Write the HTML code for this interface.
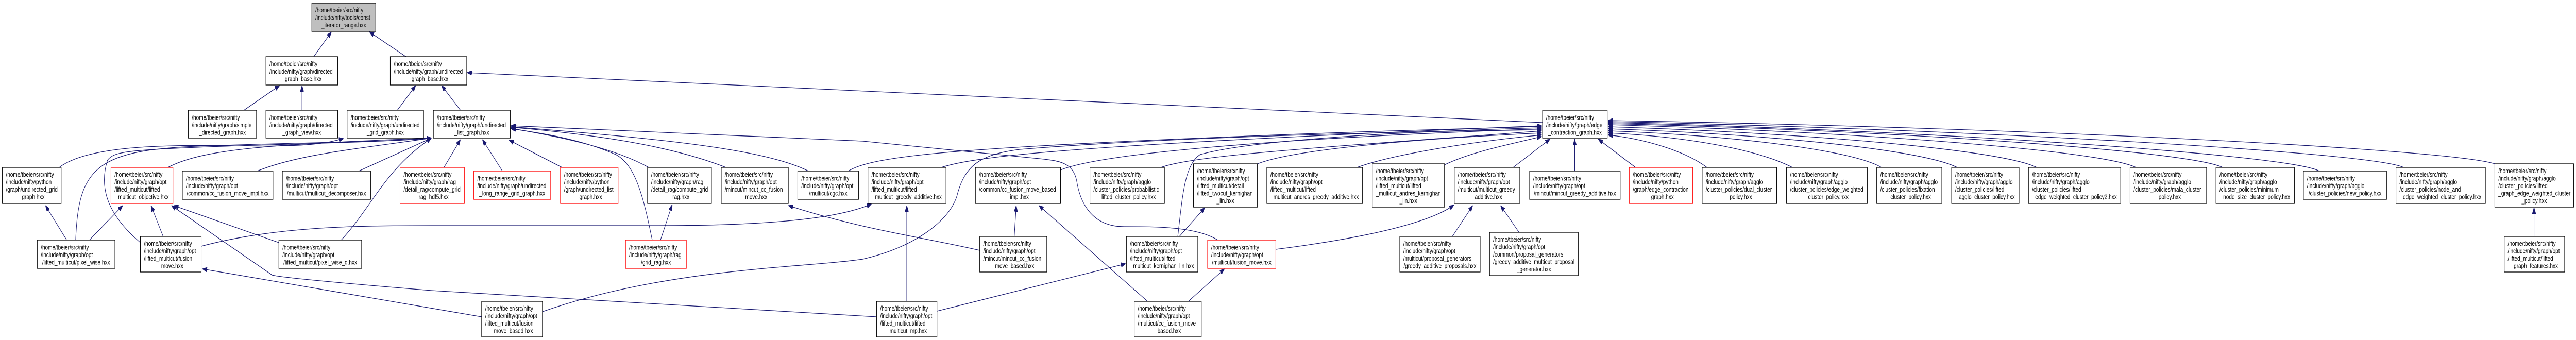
<!DOCTYPE html>
<html><head><meta charset="utf-8"><style>
html,body{margin:0;padding:0;background:#fff;width:100%;height:100%;overflow:hidden;}
svg{display:block;position:fixed;left:0;top:0;width:100vw;height:100vh;}
text{font-family:"Liberation Sans",Arial,sans-serif;font-size:13.2px;fill:#000;}
rect{fill:#fff;stroke:#000;stroke-width:1.3;}
rect.r{stroke:#f00;}
path.e{fill:none;stroke:#191970;stroke-width:1.3;marker-end:url(#a);}
</style></head><body>
<svg viewBox="0 0 6568 660" preserveAspectRatio="none" xmlns="http://www.w3.org/2000/svg">
<defs><marker id="a" viewBox="0 0 12 9" refX="12" refY="4.5" markerWidth="12" markerHeight="9" markerUnits="userSpaceOnUse" orient="auto"><path d="M0,0 L12,4.5 L0,9 z" fill="#191970" stroke="#191970"/></marker></defs>
<path class="e" d="M800,110 L845,62"/>
<path class="e" d="M1035,110 L942,62"/>
<path class="e" d="M622,214 L713,166"/>
<path class="e" d="M770,214 L770,166"/>
<path class="e" d="M1013,214 L1060,166"/>
<path class="e" d="M1174,214 L1126,166"/>
<path class="e" d="M3933,238 L1191,141"/>
<path class="e" d="M151,325 C 220,285 400,280 600,283 S 840,276 876,269"/>
<path class="e" d="M193,466 C 200,330 240,292 500,284 S 1000,276 1100,268"/>
<path class="e" d="M358,471 C 281,421 250,370 274,311 C 290,295 320,292 500,286 S 1000,276 1100,268"/>
<path class="e" d="M428,325 C 520,288 700,280 1100,268"/>
<path class="e" d="M656,332 C 760,300 900,290 1100,268"/>
<path class="e" d="M915,332 L1100,268"/>
<path class="e" d="M870,466 C 950,400 980,330 1100,268"/>
<path class="e" d="M170,466 L116,399"/>
<path class="e" d="M228,466 L313,399"/>
<path class="e" d="M416,459 L385,399"/>
<path class="e" d="M711,471 L443,399"/>
<path class="e" d="M2235,615 L1100,564 Q 720,540 694,534 L437,399"/>
<path class="e" d="M1228,615 L516,522"/>
<path class="e" d="M513,478 C 700,440 900,438 1100,438 L1680,438 C 2000,438 2150,420 2222,396"/>
<path class="e" d="M2498,486 C 2350,460 2200,446 2010,399"/>
<path class="e" d="M1383,605 C 1700,520 2050,520 2200,503 C 2330,480 2420,430 2440,380 C 2460,320 2500,300 2600,290 C 3000,265 3600,255 3931,252"/>
<path class="e" d="M2312,585 L2312,399"/>
<path class="e" d="M2389,604 L2870,512"/>
<path class="e" d="M2926,585 L2649,399"/>
<path class="e" d="M2586,459 L2591,399"/>
<path class="e" d="M3030,585 L3122,522"/>
<path class="e" d="M3007,459 L3072,403"/>
<path class="e" d="M3003,459 C 3015,380 3020,320 3060,300 C 3200,270 3600,255 3931,248"/>
<path class="e" d="M1684,466 L1714,397"/>
<path class="e" d="M1663,466 C 1640,380 1620,320 1570,300 C 1480,270 1380,258 1303,250"/>
<path class="e" d="M3105,466 C 3050,440 2950,440 2866,440 C 2790,440 2755,400 2745,350 C 2735,315 2700,312 2650,308 L2200,274 L1303,244"/>
<path class="e" d="M2061,332 C 1950,290 1700,270 1303,246"/>
<path class="e" d="M1851,325 C 1700,280 1500,260 1303,247"/>
<path class="e" d="M1654,325 C 1560,285 1420,265 1303,249"/>
<path class="e" d="M1433,325 L1298,272"/>
<path class="e" d="M1281,332 L1230,271"/>
<path class="e" d="M1132,325 L1174,271"/>
<path class="e" d="M2163,332 C 2220,305 2400,290 3000,270 S 3800,250 3931,245"/>
<path class="e" d="M2400,325 C 2500,300 2800,280 3931,244"/>
<path class="e" d="M2704,330 C 2800,300 3200,270 3931,250"/>
<path class="e" d="M2960,325 C 3050,300 3400,285 3931,254"/>
<path class="e" d="M3206,318 C 3300,290 3600,270 3931,258"/>
<path class="e" d="M3460,325 C 3550,300 3750,275 3931,262"/>
<path class="e" d="M3683,320 C 3750,295 3850,280 3931,265"/>
<path class="e" d="M3858,325 L3952,270"/>
<path class="e" d="M4015,332 L4015,270"/>
<path class="e" d="M4170,325 L4075,270"/>
<path class="e" d="M3253,484 C 3500,460 3650,430 3707,398"/>
<path class="e" d="M3703,459 L3755,399"/>
<path class="e" d="M3873,451 L3826,399"/>
<path class="e" d="M4352,325 C 4300,295 4200,270 4100,262"/>
<path class="e" d="M4570,325 C 4480,290 4300,265 4100,258"/>
<path class="e" d="M4797,325 C 4720,290 4400,262 4100,254"/>
<path class="e" d="M4990,325 C 4900,290 4500,260 4100,250"/>
<path class="e" d="M5193,325 C 5100,290 4600,258 4100,246"/>
<path class="e" d="M5446,325 C 5350,290 4700,255 4100,242"/>
<path class="e" d="M5667,325 C 5580,292 4800,252 4100,240"/>
<path class="e" d="M5913,332 C 5840,300 4900,252 4100,238"/>
<path class="e" d="M6128,325 C 6050,295 5000,250 4100,236"/>
<path class="e" d="M6361,318 C 6250,290 5200,248 4100,234"/>
<path class="e" d="M6461,459 L6461,403"/>
<g>
<rect x="795" y="6" width="163" height="55" style="fill:#bfbfbf"/>
<text><tspan x="804" y="24">/home/tbeier/src/nifty</tspan><tspan x="804" y="38.5">/include/nifty/tools/const</tspan><tspan x="876.5" y="53" text-anchor="middle">_iterator_range.hxx</tspan></text>
</g>
<g><rect x="678" y="110" width="183" height="55"/><text><tspan x="687" y="128.5">/home/tbeier/src/nifty</tspan><tspan x="687" y="143">/include/nifty/graph/directed</tspan><tspan x="769.5" y="157.5" text-anchor="middle">_graph_base.hxx</tspan></text></g>
<g><rect x="995" y="110" width="195" height="55"/><text><tspan x="1004" y="128.5">/home/tbeier/src/nifty</tspan><tspan x="1004" y="143">/include/nifty/graph/undirected</tspan><tspan x="1092.5" y="157.5" text-anchor="middle">_graph_base.hxx</tspan></text></g>
<g><rect x="480" y="214" width="174" height="54"/><text><tspan x="489" y="232.5">/home/tbeier/src/nifty</tspan><tspan x="489" y="247">/include/nifty/graph/simple</tspan><tspan x="567" y="261.5" text-anchor="middle">_directed_graph.hxx</tspan></text></g>
<g><rect x="678" y="214" width="183" height="54"/><text><tspan x="687" y="232.5">/home/tbeier/src/nifty</tspan><tspan x="687" y="247">/include/nifty/graph/directed</tspan><tspan x="769.5" y="261.5" text-anchor="middle">_graph_view.hxx</tspan></text></g>
<g><rect x="885" y="214" width="195" height="54"/><text><tspan x="894" y="232.5">/home/tbeier/src/nifty</tspan><tspan x="894" y="247">/include/nifty/graph/undirected</tspan><tspan x="982.5" y="261.5" text-anchor="middle">_grid_graph.hxx</tspan></text></g>
<g><rect x="1105" y="214" width="196" height="54"/><text><tspan x="1114" y="232.5">/home/tbeier/src/nifty</tspan><tspan x="1114" y="247">/include/nifty/graph/undirected</tspan><tspan x="1203" y="261.5" text-anchor="middle">_list_graph.hxx</tspan></text></g>
<g><rect x="3933" y="214" width="165" height="54"/><text><tspan x="3942" y="232.5">/home/tbeier/src/nifty</tspan><tspan x="3942" y="247">/include/nifty/graph/edge</tspan><tspan x="4015.5" y="261.5" text-anchor="middle">_contraction_graph.hxx</tspan></text></g>
<g><rect x="6" y="325" width="150" height="70"/><text><tspan x="15" y="343">/home/tbeier/src/nifty</tspan><tspan x="15" y="357.5">/include/nifty/python</tspan><tspan x="15" y="372">/graph/undirected_grid</tspan><tspan x="81" y="386.5" text-anchor="middle">_graph.hxx</tspan></text></g>
<g><rect class="r" x="283" y="325" width="158" height="70"/><text><tspan x="292" y="343">/home/tbeier/src/nifty</tspan><tspan x="292" y="357.5">/include/nifty/graph/opt</tspan><tspan x="292" y="372">/lifted_multicut/lifted</tspan><tspan x="362" y="386.5" text-anchor="middle">_multicut_objective.hxx</tspan></text></g>
<g><rect x="465" y="332" width="231" height="55"/><text><tspan x="474" y="350.5">/home/tbeier/src/nifty</tspan><tspan x="474" y="365">/include/nifty/graph/opt</tspan><tspan x="580.5" y="379.5" text-anchor="middle">/common/cc_fusion_move_impl.hxx</tspan></text></g>
<g><rect x="720" y="332" width="225" height="55"/><text><tspan x="729" y="350.5">/home/tbeier/src/nifty</tspan><tspan x="729" y="365">/include/nifty/graph/opt</tspan><tspan x="832.5" y="379.5" text-anchor="middle">/multicut/multicut_decomposer.hxx</tspan></text></g>
<g><rect class="r" x="1020" y="325" width="164" height="70"/><text><tspan x="1029" y="343">/home/tbeier/src/nifty</tspan><tspan x="1029" y="357.5">/include/nifty/graph/rag</tspan><tspan x="1029" y="372">/detail_rag/compute_grid</tspan><tspan x="1102" y="386.5" text-anchor="middle">_rag_hdf5.hxx</tspan></text></g>
<g><rect class="r" x="1208" y="332" width="196" height="55"/><text><tspan x="1217" y="350.5">/home/tbeier/src/nifty</tspan><tspan x="1217" y="365">/include/nifty/graph/undirected</tspan><tspan x="1306" y="379.5" text-anchor="middle">_long_range_grid_graph.hxx</tspan></text></g>
<g><rect class="r" x="1429" y="325" width="147" height="70"/><text><tspan x="1438" y="343">/home/tbeier/src/nifty</tspan><tspan x="1438" y="357.5">/include/nifty/python</tspan><tspan x="1438" y="372">/graph/undirected_list</tspan><tspan x="1502.5" y="386.5" text-anchor="middle">_graph.hxx</tspan></text></g>
<g><rect x="1651" y="325" width="163" height="70"/><text><tspan x="1660" y="343">/home/tbeier/src/nifty</tspan><tspan x="1660" y="357.5">/include/nifty/graph/rag</tspan><tspan x="1660" y="372">/detail_rag/compute_grid</tspan><tspan x="1732.5" y="386.5" text-anchor="middle">_rag.hxx</tspan></text></g>
<g><rect x="1839" y="325" width="171" height="70"/><text><tspan x="1848" y="343">/home/tbeier/src/nifty</tspan><tspan x="1848" y="357.5">/include/nifty/graph/opt</tspan><tspan x="1848" y="372">/mincut/mincut_cc_fusion</tspan><tspan x="1924.5" y="386.5" text-anchor="middle">_move.hxx</tspan></text></g>
<g><rect x="2034" y="332" width="155" height="55"/><text><tspan x="2043" y="350.5">/home/tbeier/src/nifty</tspan><tspan x="2043" y="365">/include/nifty/graph/opt</tspan><tspan x="2111.5" y="379.5" text-anchor="middle">/multicut/cgc.hxx</tspan></text></g>
<g><rect x="2213" y="325" width="199" height="70"/><text><tspan x="2222" y="343">/home/tbeier/src/nifty</tspan><tspan x="2222" y="357.5">/include/nifty/graph/opt</tspan><tspan x="2222" y="372">/lifted_multicut/lifted</tspan><tspan x="2312.5" y="386.5" text-anchor="middle">_multicut_greedy_additive.hxx</tspan></text></g>
<g><rect x="2487" y="325" width="217" height="70"/><text><tspan x="2496" y="343">/home/tbeier/src/nifty</tspan><tspan x="2496" y="357.5">/include/nifty/graph/opt</tspan><tspan x="2496" y="372">/common/cc_fusion_move_based</tspan><tspan x="2595.5" y="386.5" text-anchor="middle">_impl.hxx</tspan></text></g>
<g><rect x="2779" y="325" width="190" height="70"/><text><tspan x="2788" y="343">/home/tbeier/src/nifty</tspan><tspan x="2788" y="357.5">/include/nifty/graph/agglo</tspan><tspan x="2788" y="372">/cluster_policies/probabilistic</tspan><tspan x="2874" y="386.5" text-anchor="middle">_lifted_cluster_policy.hxx</tspan></text></g>
<g><rect x="3043" y="318" width="163" height="84"/><text><tspan x="3052" y="336">/home/tbeier/src/nifty</tspan><tspan x="3052" y="350.5">/include/nifty/graph/opt</tspan><tspan x="3052" y="365">/lifted_multicut/detail</tspan><tspan x="3052" y="379.5">/lifted_twocut_kernighan</tspan><tspan x="3124.5" y="394" text-anchor="middle">_lin.hxx</tspan></text></g>
<g><rect x="3230" y="325" width="244" height="70"/><text><tspan x="3239" y="343">/home/tbeier/src/nifty</tspan><tspan x="3239" y="357.5">/include/nifty/graph/opt</tspan><tspan x="3239" y="372">/lifted_multicut/lifted</tspan><tspan x="3352" y="386.5" text-anchor="middle">_multicut_andres_greedy_additive.hxx</tspan></text></g>
<g><rect x="3499" y="318" width="184" height="84"/><text><tspan x="3508" y="336">/home/tbeier/src/nifty</tspan><tspan x="3508" y="350.5">/include/nifty/graph/opt</tspan><tspan x="3508" y="365">/lifted_multicut/lifted</tspan><tspan x="3508" y="379.5">_multicut_andres_kernighan</tspan><tspan x="3591" y="394" text-anchor="middle">_lin.hxx</tspan></text></g>
<g><rect x="3708" y="325" width="167" height="70"/><text><tspan x="3717" y="343">/home/tbeier/src/nifty</tspan><tspan x="3717" y="357.5">/include/nifty/graph/opt</tspan><tspan x="3717" y="372">/multicut/multicut_greedy</tspan><tspan x="3791.5" y="386.5" text-anchor="middle">_additive.hxx</tspan></text></g>
<g><rect x="3900" y="332" width="231" height="55"/><text><tspan x="3909" y="350.5">/home/tbeier/src/nifty</tspan><tspan x="3909" y="365">/include/nifty/graph/opt</tspan><tspan x="4015.5" y="379.5" text-anchor="middle">/mincut/mincut_greedy_additive.hxx</tspan></text></g>
<g><rect class="r" x="4154" y="325" width="162" height="70"/><text><tspan x="4163" y="343">/home/tbeier/src/nifty</tspan><tspan x="4163" y="357.5">/include/nifty/python</tspan><tspan x="4163" y="372">/graph/edge_contraction</tspan><tspan x="4235" y="386.5" text-anchor="middle">_graph.hxx</tspan></text></g>
<g><rect x="4340" y="325" width="190" height="70"/><text><tspan x="4349" y="343">/home/tbeier/src/nifty</tspan><tspan x="4349" y="357.5">/include/nifty/graph/agglo</tspan><tspan x="4349" y="372">/cluster_policies/dual_cluster</tspan><tspan x="4435" y="386.5" text-anchor="middle">_policy.hxx</tspan></text></g>
<g><rect x="4555" y="325" width="206" height="70"/><text><tspan x="4564" y="343">/home/tbeier/src/nifty</tspan><tspan x="4564" y="357.5">/include/nifty/graph/agglo</tspan><tspan x="4564" y="372">/cluster_policies/edge_weighted</tspan><tspan x="4658" y="386.5" text-anchor="middle">_cluster_policy.hxx</tspan></text></g>
<g><rect x="4785" y="325" width="166" height="70"/><text><tspan x="4794" y="343">/home/tbeier/src/nifty</tspan><tspan x="4794" y="357.5">/include/nifty/graph/agglo</tspan><tspan x="4794" y="372">/cluster_policies/fixation</tspan><tspan x="4868" y="386.5" text-anchor="middle">_cluster_policy.hxx</tspan></text></g>
<g><rect x="4976" y="325" width="172" height="70"/><text><tspan x="4985" y="343">/home/tbeier/src/nifty</tspan><tspan x="4985" y="357.5">/include/nifty/graph/agglo</tspan><tspan x="4985" y="372">/cluster_policies/lifted</tspan><tspan x="5062" y="386.5" text-anchor="middle">_agglo_cluster_policy.hxx</tspan></text></g>
<g><rect x="5172" y="325" width="235" height="70"/><text><tspan x="5181" y="343">/home/tbeier/src/nifty</tspan><tspan x="5181" y="357.5">/include/nifty/graph/agglo</tspan><tspan x="5181" y="372">/cluster_policies/lifted</tspan><tspan x="5289.5" y="386.5" text-anchor="middle">_edge_weighted_cluster_policy2.hxx</tspan></text></g>
<g><rect x="5431" y="325" width="195" height="70"/><text><tspan x="5440" y="343">/home/tbeier/src/nifty</tspan><tspan x="5440" y="357.5">/include/nifty/graph/agglo</tspan><tspan x="5440" y="372">/cluster_policies/mala_cluster</tspan><tspan x="5528.5" y="386.5" text-anchor="middle">_policy.hxx</tspan></text></g>
<g><rect x="5650" y="325" width="200" height="70"/><text><tspan x="5659" y="343">/home/tbeier/src/nifty</tspan><tspan x="5659" y="357.5">/include/nifty/graph/agglo</tspan><tspan x="5659" y="372">/cluster_policies/minimum</tspan><tspan x="5750" y="386.5" text-anchor="middle">_node_size_cluster_policy.hxx</tspan></text></g>
<g><rect x="5873" y="332" width="212" height="55"/><text><tspan x="5882" y="350.5">/home/tbeier/src/nifty</tspan><tspan x="5882" y="365">/include/nifty/graph/agglo</tspan><tspan x="5979" y="379.5" text-anchor="middle">/cluster_policies/new_policy.hxx</tspan></text></g>
<g><rect x="6109" y="325" width="228" height="70"/><text><tspan x="6118" y="343">/home/tbeier/src/nifty</tspan><tspan x="6118" y="357.5">/include/nifty/graph/agglo</tspan><tspan x="6118" y="372">/cluster_policies/node_and</tspan><tspan x="6223" y="386.5" text-anchor="middle">_edge_weighted_cluster_policy.hxx</tspan></text></g>
<g><rect x="6361" y="318" width="201" height="84"/><text><tspan x="6370" y="336">/home/tbeier/src/nifty</tspan><tspan x="6370" y="350.5">/include/nifty/graph/agglo</tspan><tspan x="6370" y="365">/cluster_policies/lifted</tspan><tspan x="6370" y="379.5">_graph_edge_weighted_cluster</tspan><tspan x="6461.5" y="394" text-anchor="middle">_policy.hxx</tspan></text></g>
<g><rect x="95" y="466" width="198" height="55"/><text><tspan x="104" y="484.5">/home/tbeier/src/nifty</tspan><tspan x="104" y="499">/include/nifty/graph/opt</tspan><tspan x="194" y="513.5" text-anchor="middle">/lifted_multicut/pixel_wise.hxx</tspan></text></g>
<g><rect x="358" y="459" width="155" height="69"/><text><tspan x="367" y="477">/home/tbeier/src/nifty</tspan><tspan x="367" y="491.5">/include/nifty/graph/opt</tspan><tspan x="367" y="506">/lifted_multicut/fusion</tspan><tspan x="435.5" y="520.5" text-anchor="middle">_move.hxx</tspan></text></g>
<g><rect x="711" y="466" width="211" height="55"/><text><tspan x="720" y="484.5">/home/tbeier/src/nifty</tspan><tspan x="720" y="499">/include/nifty/graph/opt</tspan><tspan x="816.5" y="513.5" text-anchor="middle">/lifted_multicut/pixel_wise_q.hxx</tspan></text></g>
<g><rect class="r" x="1595" y="466" width="155" height="55"/><text><tspan x="1604" y="484.5">/home/tbeier/src/nifty</tspan><tspan x="1604" y="499">/include/nifty/graph/rag</tspan><tspan x="1672.5" y="513.5" text-anchor="middle">/grid_rag.hxx</tspan></text></g>
<g><rect x="2498" y="459" width="171" height="69"/><text><tspan x="2507" y="477">/home/tbeier/src/nifty</tspan><tspan x="2507" y="491.5">/include/nifty/graph/opt</tspan><tspan x="2507" y="506">/mincut/mincut_cc_fusion</tspan><tspan x="2583.5" y="520.5" text-anchor="middle">_move_based.hxx</tspan></text></g>
<g><rect x="2872" y="459" width="182" height="69"/><text><tspan x="2881" y="477">/home/tbeier/src/nifty</tspan><tspan x="2881" y="491.5">/include/nifty/graph/opt</tspan><tspan x="2881" y="506">/lifted_multicut/lifted</tspan><tspan x="2963" y="520.5" text-anchor="middle">_multicut_kernighan_lin.hxx</tspan></text></g>
<g><rect class="r" x="3079" y="466" width="174" height="55"/><text><tspan x="3088" y="484.5">/home/tbeier/src/nifty</tspan><tspan x="3088" y="499">/include/nifty/graph/opt</tspan><tspan x="3166" y="513.5" text-anchor="middle">/multicut/fusion_move.hxx</tspan></text></g>
<g><rect x="3569" y="459" width="205" height="69"/><text><tspan x="3578" y="477">/home/tbeier/src/nifty</tspan><tspan x="3578" y="491.5">/include/nifty/graph/opt</tspan><tspan x="3578" y="506">/multicut/proposal_generators</tspan><tspan x="3671.5" y="520.5" text-anchor="middle">/greedy_additive_proposals.hxx</tspan></text></g>
<g><rect x="3798" y="451" width="226" height="84"/><text><tspan x="3807" y="469">/home/tbeier/src/nifty</tspan><tspan x="3807" y="483.5">/include/nifty/graph/opt</tspan><tspan x="3807" y="498">/common/proposal_generators</tspan><tspan x="3807" y="512.5">/greedy_additive_multicut_proposal</tspan><tspan x="3911" y="527" text-anchor="middle">_generator.hxx</tspan></text></g>
<g><rect x="6385" y="459" width="154" height="69"/><text><tspan x="6394" y="477">/home/tbeier/src/nifty</tspan><tspan x="6394" y="491.5">/include/nifty/graph/opt</tspan><tspan x="6394" y="506">/lifted_multicut/lifted</tspan><tspan x="6462" y="520.5" text-anchor="middle">_graph_features.hxx</tspan></text></g>
<g><rect x="1228" y="585" width="155" height="69"/><text><tspan x="1237" y="603">/home/tbeier/src/nifty</tspan><tspan x="1237" y="617.5">/include/nifty/graph/opt</tspan><tspan x="1237" y="632">/lifted_multicut/fusion</tspan><tspan x="1305.5" y="646.5" text-anchor="middle">_move_based.hxx</tspan></text></g>
<g><rect x="2235" y="585" width="154" height="69"/><text><tspan x="2244" y="603">/home/tbeier/src/nifty</tspan><tspan x="2244" y="617.5">/include/nifty/graph/opt</tspan><tspan x="2244" y="632">/lifted_multicut/lifted</tspan><tspan x="2312" y="646.5" text-anchor="middle">_multicut_mp.hxx</tspan></text></g>
<g><rect x="2892" y="585" width="171" height="69"/><text><tspan x="2901" y="603">/home/tbeier/src/nifty</tspan><tspan x="2901" y="617.5">/include/nifty/graph/opt</tspan><tspan x="2901" y="632">/multicut/cc_fusion_move</tspan><tspan x="2977.5" y="646.5" text-anchor="middle">_based.hxx</tspan></text></g>
</svg>
</body></html>
